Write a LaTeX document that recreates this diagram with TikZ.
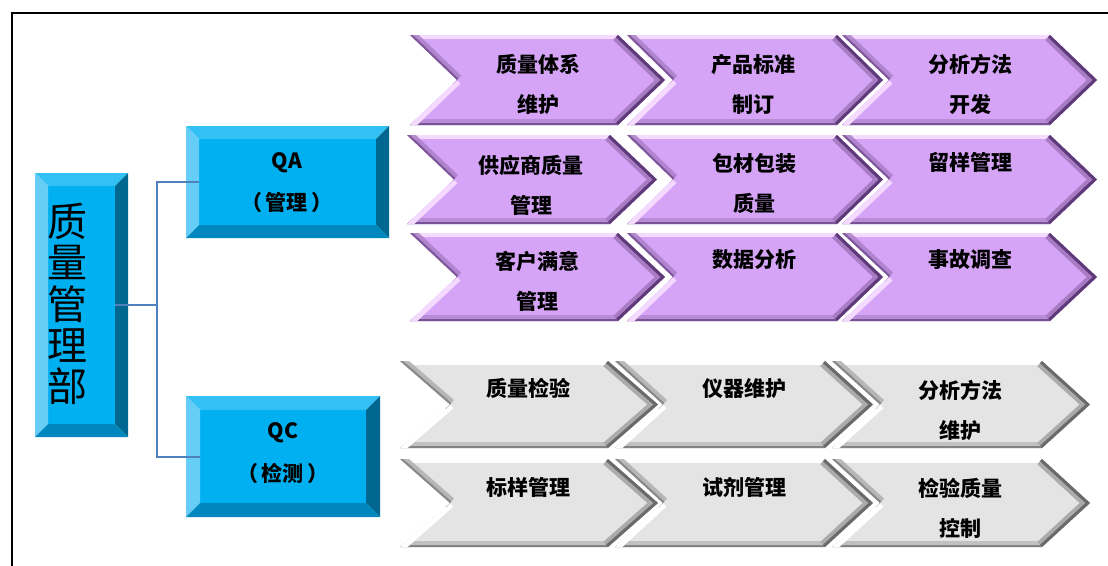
\documentclass[tikz,border=0pt]{standalone}
\usepackage{fontspec}
\setmainfont{Noto Sans CJK SC}
\definecolor{bvface}{HTML}{00B0F0}
\definecolor{bvtop}{HTML}{33C0F4}
\definecolor{bvleft}{HTML}{66CEF6}
\definecolor{bvright}{HTML}{006890}
\definecolor{bvbottom}{HTML}{0088BE}
\definecolor{purpface}{HTML}{D5A4F7}
\definecolor{purplt}{HTML}{F5DAFF}
\definecolor{purpdk}{HTML}{5E3A78}
\definecolor{purpmd}{HTML}{A77CC4}
\definecolor{grayface}{HTML}{E4E4E4}
\definecolor{graylt}{HTML}{FFFFFF}
\definecolor{graydk}{HTML}{6A6A6A}
\definecolor{graymd}{HTML}{ABABAB}
\definecolor{connblue}{HTML}{4F81BD}
\newcommand\bevelbox[5]{%
  \fill[bvface] ({#1+#5},{#2+#5}) rectangle ({#3-#5},{#4-#5});
  \fill[bvtop] (#1,#2) -- (#3,#2) -- ({#3-#5},{#2+#5}) -- ({#1+#5},{#2+#5}) -- cycle;
  \fill[bvleft] (#1,#2) -- ({#1+#5},{#2+#5}) -- ({#1+#5},{#4-#5}) -- (#1,#4) -- cycle;
  \fill[bvright] (#3,#2) -- (#3,#4) -- ({#3-#5},{#4-#5}) -- ({#3-#5},{#2+#5}) -- cycle;
  \fill[bvbottom] (#1,#4) -- (#3,#4) -- ({#3-#5},{#4-#5}) -- ({#1+#5},{#4-#5}) -- cycle;
}
\newcommand\chevron[6]{%
  \coordinate (cA) at (#1,#2);
  \coordinate (cB) at ({#1+#4},#2);
  \coordinate (cC) at ({#1+#4+#5},{(#2+#3)/2});
  \coordinate (cD) at ({#1+#4},#3);
  \coordinate (cE) at (#1,#3);
  \coordinate (cF) at ({#1+#5},{(#2+#3)/2});
  \fill[#6face] (cA)--(cB)--(cC)--(cD)--(cE)--(cF)--cycle;
  \begin{scope}
    \clip (cA)--(cB)--(cC)--(cD)--(cE)--(cF)--cycle;
    \draw[#6md, line width=12, opacity=0.6] (cE)--(cD);
    \draw[#6dk, line width=4, opacity=0.7] (cE)--(cD);
    \draw[#6lt, line width=7] (cA)--(cB);
    \draw[#6lt, line width=10] (cF)--(cE);
    \draw[#6md, line width=12, opacity=0.8] (cA)--(cF);
    \draw[#6dk, line width=4, opacity=0.6] (cA)--(cF);
    \draw[#6md, line width=14, line join=miter] (cB)--(cC)--(cD);
    \draw[#6dk, line width=6, line join=miter] (cB)--(cC)--(cD);
  \end{scope}
}
\tikzset{
  lbl/.style={font=\bfseries\fontsize{21}{40}\selectfont, align=center, inner sep=0pt},
  conn/.style={draw=connblue, line width=2pt},
}
\begin{document}
\begin{tikzpicture}[x=1pt,y=-1pt]
\useasboundingbox (0,0) rectangle (1108,565);
% frame
\draw[line width=2pt] (12,566) -- (12,13) -- (1109,13);
% bevelled boxes
\bevelbox{35}{173}{128}{437}{13}
\bevelbox{186}{126}{389}{238}{13}
\bevelbox{186}{396}{380}{517}{14}
\node[inner sep=0pt, minimum width=67pt, minimum height=238pt] (main) at (81.5,305) {};
\node[inner sep=0pt, minimum width=177pt, minimum height=86pt] (qa) at (287.5,182) {};
\node[inner sep=0pt, minimum width=166pt, minimum height=93pt] (qc) at (283,456.5) {};
\node[font=\fontsize{40}{41.3}\selectfont, align=center, inner sep=0pt] (maint) at (67,304) {质\\量\\管\\理\\部};
\node[lbl, font=\bfseries\fontsize{21}{42}\selectfont] (qat) at (287,183) {QA\\（\,管理\,）};
\node[lbl, font=\bfseries\fontsize{21}{43}\selectfont] (qct) at (283,453.5) {QC\\（\,检测\,）};
% connectors
\coordinate (jn) at (157,305);
\draw[conn] (main.east) -- (jn) |- (qa.west);
\draw[conn] (jn) |- (qc.west);
% purple chevrons
\chevron{410}{35}{125}{208}{47}{purp}
\chevron{627}{35}{125}{210}{46}{purp}
\chevron{842}{35}{125}{208}{47}{purp}
\chevron{407}{135}{224}{203}{47}{purp}
\chevron{627}{135}{224}{210}{46}{purp}
\chevron{842}{135}{224}{208}{47}{purp}
\chevron{410}{233}{321}{208}{47}{purp}
\chevron{627}{233}{321}{210}{46}{purp}
\chevron{842}{233}{321}{208}{47}{purp}
% gray chevrons
\chevron{400}{361}{448}{208}{50}{gray}
\chevron{615}{361}{448}{210}{48}{gray}
\chevron{832}{361}{448}{210}{48}{gray}
\chevron{400}{459}{547}{208}{50}{gray}
\chevron{615}{459}{547}{210}{48}{gray}
\chevron{832}{459}{547}{210}{48}{gray}
% labels
\node[lbl] (p11) at (538,84) {质量体系\\维护};
\node[lbl] (p12) at (753,84) {产品标准\\制订};
\node[lbl] (p13) at (970,84) {分析方法\\开发};
\node[lbl] (p21) at (531,185) {供应商质量\\管理};
\node[lbl] (p22) at (754,183) {包材包装\\质量};
\node[lbl] (p23) at (970,162) {留样管理};
\node[lbl] (p31) at (537,281.5) {客户满意\\管理};
\node[lbl] (p32) at (754,260) {数据分析};
\node[lbl] (p33) at (970,260) {事故调查};
\node[lbl] (g11) at (528,388) {质量检验};
\node[lbl] (g12) at (744,388) {仪器维护};
\node[lbl] (g13) at (960,410) {分析方法\\维护};
\node[lbl] (g21) at (528,487) {标样管理};
\node[lbl] (g22) at (744,487) {试剂管理};
\node[lbl] (g23) at (960,508.5) {检验质量\\控制};
\end{tikzpicture}
\end{document}
